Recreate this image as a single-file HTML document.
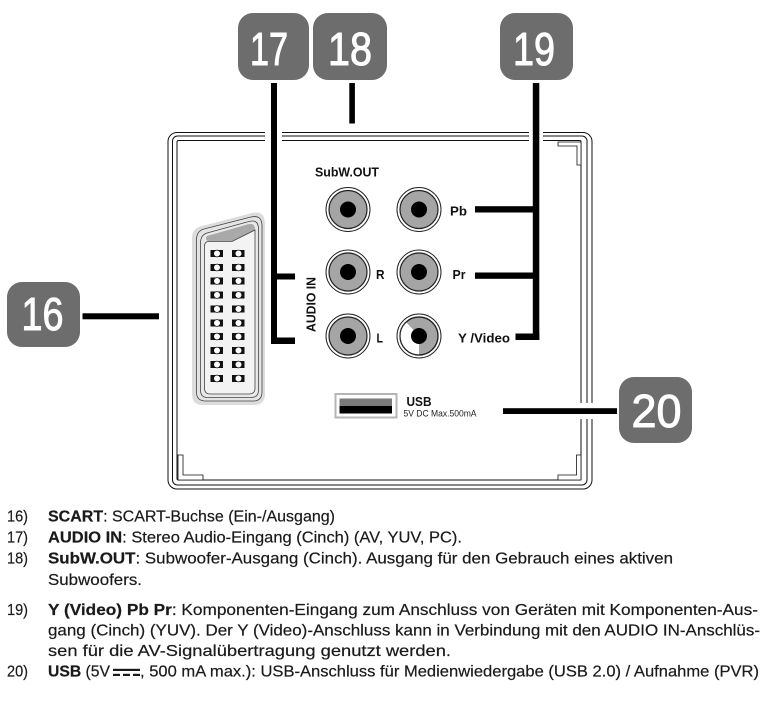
<!DOCTYPE html>
<html>
<head>
<meta charset="utf-8">
<style>
html,body{margin:0;padding:0;background:#fff;}
svg{display:block;}
.t{font-family:"Liberation Sans","DejaVu Sans",sans-serif;}
</style>
</head>
<body>
<svg width="769" height="718" viewBox="0 0 769 718" xmlns="http://www.w3.org/2000/svg">
<rect x="0" y="0" width="769" height="718" fill="#fff"/>

<!-- Panel borders -->
<rect x="168" y="132.5" width="424" height="356.5" rx="9" fill="none" stroke="#111" stroke-width="1"/>
<rect x="172.5" y="136" width="414.5" height="349" rx="5" fill="none" stroke="#111" stroke-width="1"/>
<rect x="177" y="140.5" width="404" height="339.5" rx="1.5" fill="none" stroke="#111" stroke-width="1"/>

<!-- corner brackets -->
<path d="M558,142 H581 V165 H577 V146 H558 Z" fill="#fff" stroke="#111" stroke-width="0.8"/>
<path d="M178,455 H183 V475 H203 V480 H178 Z" fill="#fff" stroke="#111" stroke-width="0.8"/>
<path d="M581,455 V480 H558 V475 H576.5 V455 Z" fill="#fff" stroke="#111" stroke-width="0.8"/>

<!-- gaps in border -->
<rect x="265" y="130" width="17" height="13" fill="#fff"/>
<rect x="529" y="130" width="14" height="13" fill="#fff"/>
<rect x="578" y="403" width="17" height="16" fill="#fff"/>

<!-- SCART -->
<path d="M192,238 Q192,228 202,226 L252,213 Q265,210 265,224 L265,394 Q265,405 254,405 L203,405 Q192,405 192,394 Z" fill="#dcdcdc"/>
<path d="M196.5,240 Q196.5,231 204,229 L251,217 Q262,214.5 262,226 L262,392 Q262,401 253,401 L205.5,401 Q196.5,401 196.5,392 Z" fill="#e4e4e4" stroke="#444" stroke-width="0.8"/>
<path d="M200.5,243 Q200.5,235 207,233 L249,221.5 Q258.5,219 258.5,229 L258.5,390 Q258.5,397.5 251,397.5 L207.5,397.5 Q200.5,397.5 200.5,390 Z" fill="#e8e8e8" stroke="#444" stroke-width="0.8"/>
<path d="M207,236 L249,224 Q255,223 255,230 L233,241 L209,241 Q206,241 206,238 Z" fill="#a9a9a9"/>
<path d="M204.5,246 Q204.5,241.5 209,241.5 L232,241.5 L255,230 L255,388 Q255,394 249,394 L210,394 Q204.5,394 204.5,388 Z" fill="#f3f3f3" stroke="#444" stroke-width="0.8"/>
<g>
<g fill="#111">
<rect x="210.5" y="250" width="12.5" height="7"/><rect x="232" y="250" width="12.5" height="7"/>
<rect x="210.5" y="264" width="12.5" height="7"/><rect x="232" y="264" width="12.5" height="7"/>
<rect x="210.5" y="277.5" width="12.5" height="7"/><rect x="232" y="277.5" width="12.5" height="7"/>
<rect x="210.5" y="291.5" width="12.5" height="7"/><rect x="232" y="291.5" width="12.5" height="7"/>
<rect x="210.5" y="305.5" width="12.5" height="7"/><rect x="232" y="305.5" width="12.5" height="7"/>
<rect x="210.5" y="319.5" width="12.5" height="7"/><rect x="232" y="319.5" width="12.5" height="7"/>
<rect x="210.5" y="333" width="12.5" height="7"/><rect x="232" y="333" width="12.5" height="7"/>
<rect x="210.5" y="347" width="12.5" height="7"/><rect x="232" y="347" width="12.5" height="7"/>
<rect x="210.5" y="361" width="12.5" height="7"/><rect x="232" y="361" width="12.5" height="7"/>
<rect x="210.5" y="375" width="12.5" height="7"/><rect x="232" y="375" width="12.5" height="7"/>
</g>
<g fill="#fff" stroke="#111" stroke-width="0.8">
<circle cx="217" cy="253.5" r="3.4"/><circle cx="238.5" cy="253.5" r="3.4"/>
<circle cx="217" cy="267.5" r="3.4"/><circle cx="238.5" cy="267.5" r="3.4"/>
<circle cx="217" cy="281" r="3.4"/><circle cx="238.5" cy="281" r="3.4"/>
<circle cx="217" cy="295" r="3.4"/><circle cx="238.5" cy="295" r="3.4"/>
<circle cx="217" cy="309" r="3.4"/><circle cx="238.5" cy="309" r="3.4"/>
<circle cx="217" cy="323" r="3.4"/><circle cx="238.5" cy="323" r="3.4"/>
<circle cx="217" cy="336.5" r="3.4"/><circle cx="238.5" cy="336.5" r="3.4"/>
<circle cx="217" cy="350.5" r="3.4"/><circle cx="238.5" cy="350.5" r="3.4"/>
<circle cx="217" cy="364.5" r="3.4"/><circle cx="238.5" cy="364.5" r="3.4"/>
<circle cx="217" cy="378.5" r="3.4"/><circle cx="238.5" cy="378.5" r="3.4"/>
</g>
</g>

<!-- Jacks -->
<g stroke="#222">
<circle cx="348" cy="209.5" r="22" fill="#fff" stroke-width="1"/>
<circle cx="348" cy="209.5" r="19" fill="#a5a5a5" stroke-width="1.2"/>
<circle cx="419" cy="209.5" r="22" fill="#fff" stroke-width="1"/>
<circle cx="419" cy="209.5" r="19" fill="#a5a5a5" stroke-width="1.2"/>
<circle cx="348" cy="272" r="22" fill="#fff" stroke-width="1"/>
<circle cx="348" cy="272" r="19" fill="#a5a5a5" stroke-width="1.2"/>
<circle cx="419" cy="272" r="22" fill="#fff" stroke-width="1"/>
<circle cx="419" cy="272" r="19" fill="#a5a5a5" stroke-width="1.2"/>
<circle cx="348" cy="336" r="22" fill="#fff" stroke-width="1"/>
<circle cx="348" cy="336" r="19" fill="#a5a5a5" stroke-width="1.2"/>
<circle cx="419" cy="336" r="22" fill="#fff" stroke-width="1"/>
<circle cx="419" cy="336" r="19" fill="#a5a5a5" stroke-width="1.2"/>
</g>
<path d="M419,336 L419,355 A19,19 0 0 1 400,336 A19,19 0 0 1 406,322 Z" fill="#fff"/>
<circle cx="419" cy="336" r="19" fill="none" stroke="#222" stroke-width="1.2"/>
<g fill="#000">
<circle cx="348" cy="209.5" r="8"/>
<circle cx="419" cy="209.5" r="8"/>
<circle cx="348" cy="272" r="8"/>
<circle cx="419" cy="272" r="8"/>
<circle cx="348" cy="336" r="8"/>
<circle cx="419" cy="336" r="8"/>
</g>

<!-- Panel labels -->
<g class="t" font-weight="bold" fill="#111">
<text x="315" y="176.5" font-size="12.5" textLength="64" lengthAdjust="spacingAndGlyphs">SubW.OUT</text>
<text x="450" y="215.5" font-size="13" textLength="17" lengthAdjust="spacingAndGlyphs">Pb</text>
<text x="452.5" y="279" font-size="13" textLength="13" lengthAdjust="spacingAndGlyphs">Pr</text>
<text x="376" y="279" font-size="13" textLength="8.5" lengthAdjust="spacingAndGlyphs">R</text>
<text x="376.5" y="342.5" font-size="13" textLength="6.5" lengthAdjust="spacingAndGlyphs">L</text>
<text x="458" y="342.5" font-size="13" textLength="52" lengthAdjust="spacingAndGlyphs">Y /Video</text>
<text transform="translate(315.5,304.5) rotate(-90)" x="0" y="0" font-size="12.5" text-anchor="middle" textLength="55" lengthAdjust="spacingAndGlyphs">AUDIO IN</text>
<text x="406.5" y="406" font-size="13" textLength="25" lengthAdjust="spacingAndGlyphs">USB</text>
</g>
<text class="t" x="403.5" y="416.5" font-size="9" fill="#222" textLength="73" lengthAdjust="spacingAndGlyphs">5V DC Max.500mA</text>

<!-- USB port -->
<rect x="335.5" y="394" width="61" height="23.5" fill="#fff" stroke="#b5b5b5" stroke-width="2"/>
<rect x="339.5" y="398.5" width="52.5" height="7.5" fill="#7b7b7b"/>
<rect x="339.5" y="406" width="52.5" height="7.5" fill="#000"/>

<!-- Leader lines -->
<g fill="#000">
<rect x="82.5" y="313.3" width="76.5" height="6"/>
<rect x="271" y="83" width="6" height="261"/>
<rect x="271" y="273.5" width="24" height="6"/>
<rect x="271" y="337.5" width="24" height="6.5"/>
<rect x="349.3" y="83" width="5.6" height="40.5"/>
<rect x="532.8" y="83" width="6.5" height="257"/>
<rect x="475" y="206.2" width="64" height="6.3"/>
<rect x="475" y="272.5" width="64" height="6.3"/>
<rect x="515.5" y="333.5" width="23.8" height="6.5"/>
<rect x="503" y="408.2" width="114" height="5.8"/>
</g>

<!-- Badges -->
<g fill="#6d6d6d">
<rect x="7" y="282" width="73" height="65" rx="15"/>
<rect x="238" y="13" width="71" height="67" rx="15"/>
<rect x="313" y="13" width="74" height="67" rx="15"/>
<rect x="500" y="13" width="73" height="67" rx="15"/>
<rect x="619" y="377" width="73" height="66" rx="15"/>
</g>
<g class="t" fill="#fff" stroke="#fff" stroke-width="1" font-size="46">
<text x="21.5" y="330" textLength="42" lengthAdjust="spacingAndGlyphs">16</text>
<text x="250" y="65" textLength="38" lengthAdjust="spacingAndGlyphs">17</text>
<text x="328" y="65" textLength="44" lengthAdjust="spacingAndGlyphs">18</text>
<text x="513" y="65" textLength="42" lengthAdjust="spacingAndGlyphs">19</text>
<text x="631.5" y="427" textLength="50" lengthAdjust="spacingAndGlyphs">20</text>
</g>

<!-- Description text -->
<g class="t" font-size="16" fill="#1a1a1a" stroke="#1a1a1a" stroke-width="0.2">
<text x="7" y="521.5" textLength="21" lengthAdjust="spacingAndGlyphs">16)</text>
<text x="48" y="521.5" textLength="287" lengthAdjust="spacingAndGlyphs"><tspan font-weight="bold">SCART</tspan>: SCART-Buchse (Ein-/Ausgang)</text>

<text x="7" y="542.5" textLength="21" lengthAdjust="spacingAndGlyphs">17)</text>
<text x="48" y="542.5" textLength="414" lengthAdjust="spacingAndGlyphs"><tspan font-weight="bold">AUDIO IN</tspan>: Stereo Audio-Eingang (Cinch) (AV, YUV, PC).</text>

<text x="7" y="563.5" textLength="21" lengthAdjust="spacingAndGlyphs">18)</text>
<text x="48" y="563.5" textLength="625" lengthAdjust="spacingAndGlyphs"><tspan font-weight="bold">SubW.OUT</tspan>: Subwoofer-Ausgang (Cinch). Ausgang für den Gebrauch eines aktiven</text>
<text x="48" y="585" textLength="94" lengthAdjust="spacingAndGlyphs">Subwoofers.</text>

<text x="7" y="615" textLength="21" lengthAdjust="spacingAndGlyphs">19)</text>
<text x="48" y="615" textLength="710" lengthAdjust="spacingAndGlyphs"><tspan font-weight="bold">Y (Video) Pb Pr</tspan>: Komponenten-Eingang zum Anschluss von Geräten mit Komponenten-Aus-</text>
<text x="48" y="635.5" textLength="712" lengthAdjust="spacingAndGlyphs">gang (Cinch) (YUV). Der Y (Video)-Anschluss kann in Verbindung mit den AUDIO IN-Anschlüs-</text>
<text x="48" y="656" textLength="403" lengthAdjust="spacingAndGlyphs">sen für die AV-Signalübertragung genutzt werden.</text>

<text x="7" y="676.5" textLength="21" lengthAdjust="spacingAndGlyphs">20)</text>
<text x="48" y="676.5" textLength="62" lengthAdjust="spacingAndGlyphs"><tspan font-weight="bold">USB</tspan> (5V</text>
<text x="140" y="676.5" textLength="619" lengthAdjust="spacingAndGlyphs">, 500 mA max.): USB-Anschluss für Medienwiedergabe (USB 2.0) / Aufnahme (PVR)</text>
</g>
<!-- DC symbol -->
<g fill="#1a1a1a">
<rect x="113" y="668.8" width="27" height="2.2"/>
<rect x="113" y="673.8" width="7" height="2.2"/>
<rect x="123" y="673.8" width="7" height="2.2"/>
<rect x="133" y="673.8" width="7" height="2.2"/>
</g>
</svg>
</body>
</html>
